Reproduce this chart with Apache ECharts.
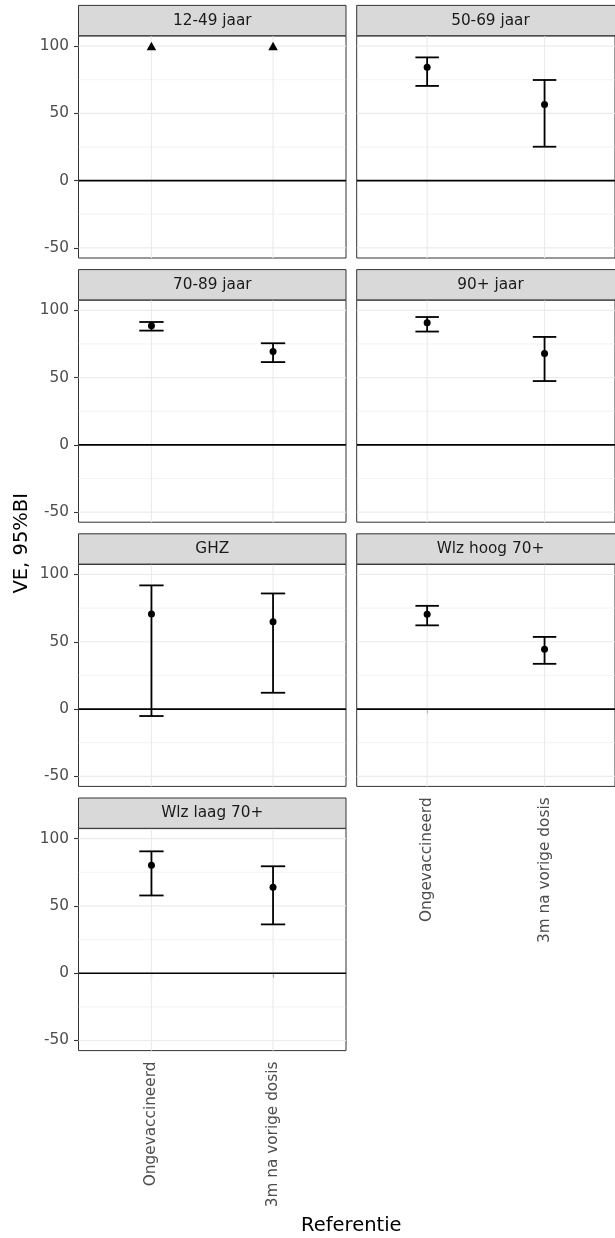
<!DOCTYPE html>
<html>
<head>
<meta charset="utf-8">
<script src="https://cdn.jsdelivr.net/npm/echarts@6/dist/echarts.min.js"></script>
<style>
  html, body { margin: 0; padding: 0; background: #ffffff; }
  #chart { width: 615px; height: 1238px; }
</style>
</head>
<body>
<div id="chart"></div>
<script>
// Vaccine effectiveness (VE) with 95% interval, per group and reference category
const categories = ['Ongevaccineerd', '3m na vorige dosis'];
const groups = ['12-49 jaar', '50-69 jaar', '70-89 jaar', '90+ jaar', 'GHZ', 'Wlz hoog 70+', 'Wlz laag 70+'];

const estimate = [
  [100, 100],
  [84.2, 56.5],
  [88.6, 69.3],
  [90.8, 67.9],
  [70.6, 64.9],
  [70.4, 44.4],
  [80.2, 63.9]
];
const lower = [
  [null, null],
  [70.4, 25.2],
  [84.9, 61.5],
  [84.2, 47.4],
  [-5.2, 12.1],
  [62.2, 33.6],
  [57.8, 36.3]
];
const upper = [
  [null, null],
  [91.6, 74.8],
  [91.3, 75.5],
  [95.0, 80.2],
  [91.9, 85.9],
  [76.7, 53.6],
  [90.6, 79.5]
];

const yBreaks = [-50, 0, 50, 100];
const yMinorBreaks = [-25, 25, 75];
const yLimits = [-50, 100];

// panel layout
const FONT = 'DejaVu Sans, Verdana, sans-serif';
const colLeft = [78.5, 356.7];
const panelW = 267.5;
const panelH = 222;
const stripH = 30.3;
const rowStep = 264.2;
const firstPanelTop = 36;
const nCols = 2;

const ySpan = yLimits[1] - yLimits[0];
const yMin = yLimits[0] - 0.05 * ySpan;
const yMax = yLimits[1] + 0.05 * ySpan;
const xMin = 0.4, xMax = categories.length + 0.6;
const xPositions = categories.map((c, i) => i + 1);

const grids = [], xAxes = [], yAxes = [], series = [], graphics = [];
const nRows = Math.ceil(groups.length / nCols);

groups.forEach((g, i) => {
  const col = i % nCols;
  const row = Math.floor(i / nCols);
  const top = firstPanelTop + row * rowStep;
  const left = colLeft[col];
  const hasPanelBelow = (i + nCols) < groups.length;

  grids.push({
    left: left, top: top, width: panelW, height: panelH,
    show: true, backgroundColor: '#ffffff', borderColor: '#333333', borderWidth: 1, z: 0
  });

  xAxes.push({
    gridIndex: i, type: 'value', min: xMin, max: xMax,
    axisLine: { show: false },
    splitLine: { show: false },
    axisTick: { show: !hasPanelBelow, length: 4.5, customValues: xPositions, lineStyle: { color: '#333333', width: 1.1 } },
    axisLabel: {
      show: !hasPanelBelow, customValues: xPositions, rotate: 90, margin: 11,
      color: '#4d4d4d', fontSize: 15.3, fontFamily: FONT,
      formatter: v => categories[Math.round(v) - 1] || ''
    }
  });

  yAxes.push({
    gridIndex: i, type: 'value', min: yMin, max: yMax,
    axisLine: { show: false },
    splitLine: { show: false },
    axisTick: { show: col === 0, length: 4.5, customValues: yBreaks, lineStyle: { color: '#333333', width: 1.1 } },
    axisLabel: {
      show: col === 0, customValues: yBreaks, margin: 9.5,
      color: '#4d4d4d', fontSize: 15.3, fontFamily: FONT
    }
  });

  // background grid lines and the zero reference line
  series.push({
    type: 'custom', xAxisIndex: i, yAxisIndex: i, z: 1, silent: true,
    data: [[1, 0]],
    renderItem: (params, api) => {
      const children = [];
      const hline = (v, color, w) => {
        const a = api.coord([xMin, v]), b = api.coord([xMax, v]);
        children.push({ type: 'line', shape: { x1: a[0], y1: a[1], x2: b[0], y2: b[1] }, style: { stroke: color, lineWidth: w } });
      };
      yMinorBreaks.forEach(v => hline(v, '#ebebeb', 0.6));
      yBreaks.forEach(v => hline(v, '#ebebeb', 1.2));
      xPositions.forEach(x => {
        const a = api.coord([x, yMin]), b = api.coord([x, yMax]);
        children.push({ type: 'line', shape: { x1: a[0], y1: a[1], x2: b[0], y2: b[1] }, style: { stroke: '#ebebeb', lineWidth: 1.2 } });
      });
      hline(0, '#000000', 1.7);
      return { type: 'group', children: children };
    }
  });

  // interval bars
  const barData = [];
  const pointData = [];
  const capData = [];
  categories.forEach((c, k) => {
    const lo = lower[i][k], hi = upper[i][k], est = estimate[i][k];
    if (lo !== null && hi !== null) {
      barData.push([k + 1, lo, hi]);
      pointData.push([k + 1, est]);
    } else if (est !== null) {
      capData.push([k + 1, est]);
    }
  });

  series.push({
    type: 'custom', xAxisIndex: i, yAxisIndex: i, z: 3, silent: true,
    data: barData,
    encode: { x: 0, y: [1, 2] },
    renderItem: (params, api) => {
      const x = api.value(0);
      const lo = api.coord([x, api.value(1)]);
      const hi = api.coord([x, api.value(2)]);
      const half = api.size([0.2, 0])[0] / 2;
      const st = { stroke: '#000000', lineWidth: 1.8 };
      return {
        type: 'group',
        children: [
          { type: 'line', shape: { x1: lo[0], y1: lo[1], x2: hi[0], y2: hi[1] }, style: st },
          { type: 'line', shape: { x1: hi[0] - half, y1: hi[1], x2: hi[0] + half, y2: hi[1] }, style: st },
          { type: 'line', shape: { x1: lo[0] - half, y1: lo[1], x2: lo[0] + half, y2: lo[1] }, style: st }
        ]
      };
    }
  });

  series.push({
    type: 'scatter', xAxisIndex: i, yAxisIndex: i, z: 4, silent: true,
    symbol: 'circle', symbolSize: 7,
    itemStyle: { color: '#000000', opacity: 1 },
    data: pointData
  });

  if (capData.length) {
    series.push({
      type: 'scatter', xAxisIndex: i, yAxisIndex: i, z: 4, silent: true,
      symbol: 'triangle', symbolSize: [9.5, 8.5],
      itemStyle: { color: '#000000', opacity: 1 },
      data: capData
    });
  }

  // facet strip
  const stripTop = top - stripH - 0.3;
  graphics.push({
    type: 'rect', silent: true, z: 5,
    shape: { x: left, y: stripTop, width: panelW, height: stripH },
    style: { fill: '#d9d9d9', stroke: '#333333', lineWidth: 1 }
  });
  graphics.push({
    type: 'text', silent: true, z: 6,
    x: left + panelW / 2, y: stripTop + stripH / 2,
    style: {
      text: g, fill: '#1a1a1a', fontSize: 15.3, fontFamily: FONT,
      align: 'center', verticalAlign: 'middle', textAlign: 'center', textVerticalAlign: 'middle'
    }
  });
});

// axis titles
const panelsBottom = firstPanelTop + (nRows - 1) * rowStep + panelH;
graphics.push({
  type: 'text', silent: true, z: 6,
  x: 22, y: (firstPanelTop + panelsBottom) / 2, rotation: Math.PI / 2,
  style: {
    text: 'VE, 95%BI', fill: '#000000', fontSize: 19.5, fontFamily: FONT,
    align: 'center', verticalAlign: 'middle', textAlign: 'center', textVerticalAlign: 'middle'
  }
});
graphics.push({
  type: 'text', silent: true, z: 6,
  x: (colLeft[0] + colLeft[1] + panelW) / 2, y: 1226,
  style: {
    text: 'Referentie', fill: '#000000', fontSize: 19.5, fontFamily: FONT,
    align: 'center', verticalAlign: 'middle', textAlign: 'center', textVerticalAlign: 'middle'
  }
});

const chart = echarts.init(document.getElementById('chart'), null, { renderer: 'canvas' });
chart.setOption({
  animation: false,
  backgroundColor: '#ffffff',
  grid: grids,
  xAxis: xAxes,
  yAxis: yAxes,
  series: series,
  graphic: graphics
});
</script>
</body>
</html>
